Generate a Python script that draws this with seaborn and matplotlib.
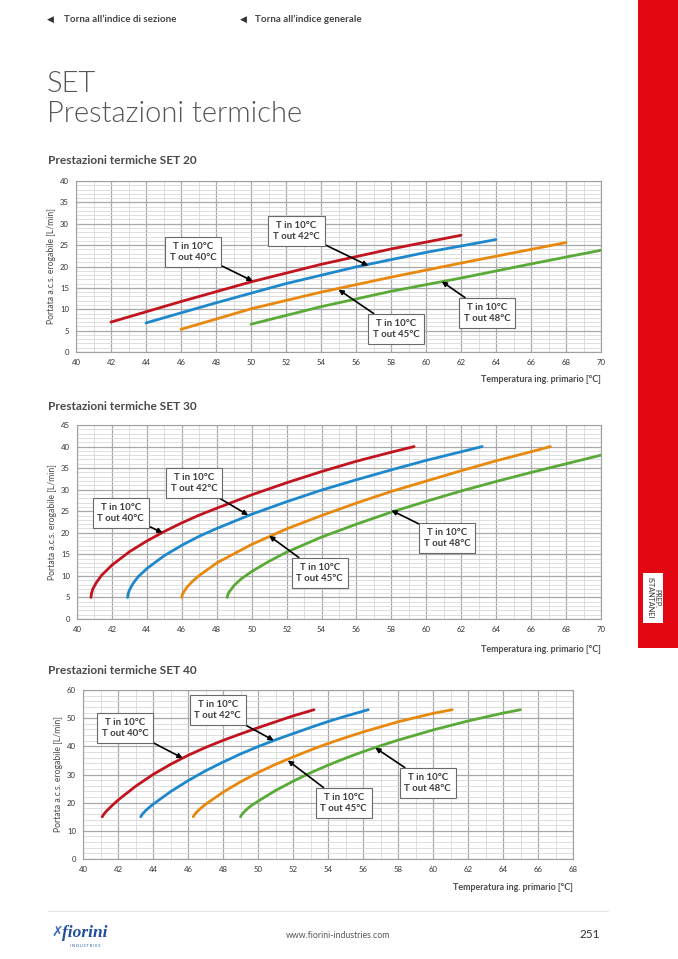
import numpy as np
import pandas as pd
import matplotlib
matplotlib.use("Agg")
import matplotlib.pyplot as plt
from matplotlib.patches import Rectangle
from matplotlib.ticker import MultipleLocator
import seaborn as sns

# ---- data ----
labels = ["T in 10°C\nT out 40°C", "T in 10°C\nT out 42°C",
          "T in 10°C\nT out 45°C", "T in 10°C\nT out 48°C"]
colors = ["#c2141f", "#1e88cc", "#e8890e", "#5aaa38"]

# SET 20
s20_x40 = [42, 46, 50, 54, 58, 62]
s20_y40 = [7.0, 11.8, 16.4, 20.5, 24.1, 27.3]
s20_x42 = [44, 48, 52, 56, 60, 64]
s20_y42 = [6.8, 11.5, 16.0, 19.9, 23.3, 26.3]
s20_x45 = [46, 50, 54, 58, 62, 66, 68]
s20_y45 = [5.3, 10.1, 14.0, 17.5, 20.8, 24.0, 25.6]
s20_x48 = [50, 54, 58, 62, 66, 70]
s20_y48 = [6.5, 10.6, 14.2, 17.3, 20.6, 23.8]

# SET 30
s30_x40 = [40.8, 40.83, 40.9, 41.1, 41.4, 42, 43, 44, 45, 46, 47, 48, 50, 52, 54, 56, 58, 59.3]
s30_y40 = [5.0, 5.9, 6.9, 8.4, 10.1, 12.5, 15.6, 18.1, 20.3, 22.3, 24.1, 25.7, 28.8, 31.6, 34.2, 36.6, 38.7, 40.0]
s30_x42 = [42.9, 42.93, 43.0, 43.2, 43.5, 44, 45, 46, 47, 48, 50, 52, 54, 56, 58, 60, 62, 63.2]
s30_y42 = [5.0, 5.9, 6.7, 8.2, 9.8, 11.7, 14.7, 17.1, 19.2, 21.0, 24.3, 27.2, 29.9, 32.3, 34.6, 36.8, 38.8, 40.0]
s30_x45 = [46.0, 46.03, 46.1, 46.3, 46.6, 47, 48, 50, 52, 54, 56, 58, 60, 62, 64, 66, 67.1]
s30_y45 = [5.0, 5.6, 6.2, 7.4, 8.7, 10.1, 13.0, 17.3, 20.9, 24.0, 26.9, 29.6, 32.0, 34.4, 36.7, 38.8, 40.0]
s30_x48 = [48.6, 48.63, 48.7, 49.0, 49.4, 50, 51, 52, 54, 56, 58, 60, 62, 64, 66, 68, 70]
s30_y48 = [5.0, 5.55, 6.2, 7.8, 9.3, 11.0, 13.4, 15.5, 19.0, 22.0, 24.8, 27.3, 29.7, 31.9, 34.0, 36.0, 38.0]

# SET 40
s40_x40 = [41.1, 41.2, 41.4, 41.7, 42, 43, 44, 45, 46, 47, 48, 49, 50, 51, 52, 53.2]
s40_y40 = [15, 16.0, 17.4, 19.2, 20.9, 25.8, 30.0, 33.6, 36.8, 39.6, 42.1, 44.4, 46.6, 48.7, 50.8, 53]
s40_x42 = [43.3, 43.4, 43.6, 43.8, 44, 45, 46, 47, 48, 49, 50, 51, 52, 53, 54, 55, 56.3]
s40_y42 = [15, 16.0, 17.3, 18.4, 19.4, 23.9, 27.8, 31.3, 34.4, 37.3, 39.9, 42.3, 44.5, 46.7, 48.8, 50.7, 53]
s40_x45 = [46.3, 46.4, 46.6, 46.8, 47, 48, 49, 50, 51, 52, 53, 54, 55, 56, 58, 60, 61.1]
s40_y45 = [15, 16.0, 17.3, 18.4, 19.4, 23.7, 27.4, 30.7, 33.6, 36.2, 38.7, 41.0, 43.1, 45.1, 48.7, 51.7, 53]
s40_x48 = [49.0, 49.1, 49.3, 49.5, 49.7, 50, 51, 52, 53, 54, 55, 56, 57, 58, 60, 62, 64, 65]
s40_y48 = [15, 16.0, 17.3, 18.4, 19.3, 20.5, 24.3, 27.6, 30.6, 33.3, 35.8, 38.1, 40.2, 42.2, 45.8, 49.0, 51.8, 53]

# annotation boxes (box centre, arrow tip) per chart
s20_box = [(46.7, 23.4), (52.6, 28.3), (58.3, 5.4), (63.5, 9.1)]
s20_tip = [(50.1, 16.6), (56.7, 20.2), (55.0, 14.6), (60.9, 16.5)]
s30_box = [(42.5, 24.6), (46.7, 31.5), (53.9, 10.7), (61.2, 18.8)]
s30_tip = [(44.9, 20.0), (49.8, 24.1), (51.0, 19.3), (58.0, 25.2)]
s40_box = [(42.4, 46.5), (47.7, 52.9), (54.9, 19.9), (59.7, 27.0)]
s40_tip = [(45.7, 35.8), (50.9, 42.1), (51.7, 35.0), (56.7, 39.5)]

sns.set_style("white")
plt.rcParams['font.family'] = ['Lato', 'DejaVu Sans']
txt = "#4a4a4a"

W, H = 678, 959
fig = plt.figure(figsize=(W / 100, H / 100), dpi=100)


def px_axes(x0, y0, x1, y1):
    return fig.add_axes([x0 / W, 1 - y1 / H, (x1 - x0) / W, (y1 - y0) / H])


def draw_chart(ax, series, xlim, ylim, ymajor, yminor, boxes, tips):
    frames = []
    for i, (xs, ys) in enumerate(series):
        frames.append(pd.DataFrame({"t": xs, "q": ys, "serie": labels[i]}))
    df = pd.concat(frames, ignore_index=True)
    sns.lineplot(data=df, x="t", y="q", hue="serie", palette=colors,
                 legend=False, linewidth=2.0, sort=False, ax=ax, zorder=3)
    ax.set_xlim(*xlim)
    ax.set_ylim(*ylim)
    ax.xaxis.set_major_locator(MultipleLocator(2))
    ax.xaxis.set_minor_locator(MultipleLocator(1))
    ax.yaxis.set_major_locator(MultipleLocator(ymajor))
    ax.yaxis.set_minor_locator(MultipleLocator(yminor))
    ax.grid(which="major", color="#a9a9a9", lw=0.9)
    ax.grid(which="minor", color="#d9d9d9", lw=0.6)
    ax.set_axisbelow(True)
    for s in ax.spines.values():
        s.set_color("#a0a0a0")
        s.set_linewidth(0.8)
    ax.tick_params(axis="x", which="both", length=0, labelsize=5.6,
                   labelcolor="#333333", pad=5)
    ax.tick_params(axis="y", which="major", length=3, color="#a0a0a0",
                   labelsize=5.6, labelcolor="#333333", pad=2)
    ax.tick_params(axis="y", which="minor", length=0)
    ax.set_xlabel("")
    ax.set_ylabel("Portata a.c.s. erogabile [L/min]", fontsize=6.2, color=txt, labelpad=3)
    for i in range(4):
        ax.annotate(labels[i], xy=tips[i], xytext=boxes[i], textcoords="data",
                    ha="center", va="center", fontsize=6.9, fontweight="bold",
                    color="#3c3c3c", linespacing=1.35, zorder=5,
                    bbox=dict(boxstyle="square,pad=0.5", fc="white", ec="#6a6a6a", lw=0.8),
                    arrowprops=dict(arrowstyle="-|>", color="black", lw=1.2,
                                    mutation_scale=7, shrinkA=0, shrinkB=0))


# SET 20
ax1 = px_axes(76, 181, 601, 352)
draw_chart(ax1, [(s20_x40, s20_y40), (s20_x42, s20_y42), (s20_x45, s20_y45), (s20_x48, s20_y48)],
           (40, 70), (0, 40), 5, 1, s20_box, s20_tip)
# SET 30
ax2 = px_axes(77, 425, 601, 619)
draw_chart(ax2, [(s30_x40, s30_y40), (s30_x42, s30_y42), (s30_x45, s30_y45), (s30_x48, s30_y48)],
           (40, 70), (0, 45), 5, 1, s30_box, s30_tip)
# SET 40
ax3 = px_axes(83, 690, 573, 859)
draw_chart(ax3, [(s40_x40, s40_y40), (s40_x42, s40_y42), (s40_x45, s40_y45), (s40_x48, s40_y48)],
           (40, 68), (0, 60), 10, 2, s40_box, s40_tip)


def ftext(x, y, s, **kw):
    fig.text(x / W, 1 - y / H, s, **kw)


# chart titles and x labels
for yy, name in [(161, "Prestazioni termiche SET 20"), (407, "Prestazioni termiche SET 30"),
                 (671, "Prestazioni termiche SET 40")]:
    ftext(48, yy, name, fontsize=8.6, fontweight="bold", color=txt, va="center")
for xx, yy in [(601, 380), (601, 650), (573, 887)]:
    ftext(xx, yy, "Temperatura ing. primario [°C]", fontsize=6.4, fontweight="bold",
          color=txt, ha="right", va="center")

# page header
ftext(47, 19, "◀", fontsize=6.5, color="#333333", va="center", family="DejaVu Sans")
ftext(64, 19, "Torna all’indice di sezione", fontsize=7, color="#444444", va="center", fontweight="bold")
ftext(240, 19, "◀", fontsize=6.5, color="#333333", va="center", family="DejaVu Sans")
ftext(255, 19, "Torna all’indice generale", fontsize=7, color="#444444", va="center", fontweight="bold")
ftext(47, 92, "SET", fontsize=21, color="#555555", fontweight=300, va="baseline")
ftext(47, 122, "Prestazioni termiche", fontsize=21, color="#555555", fontweight=300, va="baseline")

# red side band with tab
fig.patches.append(Rectangle((638 / W, 1 - 648 / H), 40 / W, 648 / H,
                             transform=fig.transFigure, fc="#e30613", ec="none"))
fig.patches.append(Rectangle((643 / W, 1 - 623 / H), 20 / W, 50 / H,
                             transform=fig.transFigure, fc="white", ec="none"))
ftext(653, 598, "PREP.\nISTANTANEI", fontsize=5.2, color="#333333", rotation=-90,
      ha="center", va="center", multialignment="center", linespacing=1.0)

# footer
fig.add_artist(plt.Line2D([48 / W, 608 / W], [1 - 911 / H, 1 - 911 / H], color="#e6e6e6", lw=0.8))
ftext(62, 933, "fiorini", fontsize=12.5, color="#1f4f9e", fontweight="bold", fontstyle="italic",
      family="Liberation Serif", va="center")
ftext(70, 946, "I N D U S T R I E S", fontsize=2.7, color="#1f4f9e", va="center")
ftext(51, 932, "✗", fontsize=10, color="#3b6cb5", va="center", family="DejaVu Sans")
ftext(338, 935, "www.fiorini-industries.com", fontsize=6.3, color="#555555", ha="center", va="center")
ftext(600, 935, "251", fontsize=8.5, color="#333333", ha="right", va="center")

fig.savefig("out.png", dpi=100)
